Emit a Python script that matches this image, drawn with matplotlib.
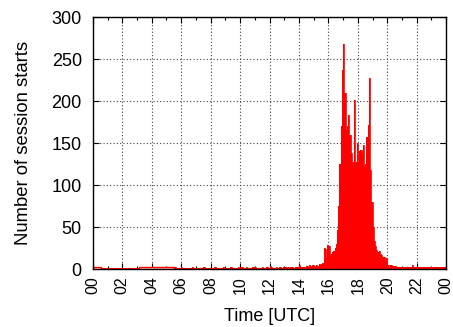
import numpy as np
import matplotlib
matplotlib.use("Agg")
import matplotlib.pyplot as plt
from matplotlib.ticker import MultipleLocator

plt.rcParams['font.family'] = ['Liberation Sans', 'DejaVu Sans']

# session starts per 5-minute bin, one row per hour (00 .. 23 UTC)
h00 = [1, 1, 1, 1, 1, 1, 1, 1, 1, 1, 1, 1]
h01 = [1, 1, 1, 1, 1, 1, 1, 1, 1, 1, 1, 1]
h02 = [1, 1, 1, 1, 1, 1, 1, 1, 1, 1, 1, 1]
h03 = [1, 1, 1, 1, 1, 1, 1, 1, 1, 1, 1, 1]
h04 = [1, 1, 1, 1, 1, 1, 1, 1, 1, 1, 1, 1]
h05 = [1, 1, 1, 1, 1, 1, 1, 2, 1, 1, 1, 1]
h06 = [2, 1, 1, 1, 1, 1, 1, 1, 1, 2, 1, 1]
h07 = [1, 1, 1, 1, 1, 1, 2, 1, 1, 1, 1, 1]
h08 = [1, 1, 1, 2, 1, 1, 1, 1, 1, 1, 2, 1]
h09 = [1, 1, 1, 1, 2, 1, 1, 1, 1, 1, 2, 1]
h10 = [3, 2, 1, 1, 1, 2, 1, 1, 1, 1, 2, 2]
h11 = [2, 1, 1, 1, 1, 1, 2, 1, 1, 2, 3, 1]
h12 = [4, 2, 1, 1, 1, 2, 1, 1, 2, 1, 1, 2]
h13 = [1, 2, 1, 2, 1, 3, 2, 1, 1, 2, 2, 3]
h14 = [5, 2, 3, 2, 3, 2, 4, 3, 5, 4, 3, 5]
h15 = [4, 3, 5, 4, 6, 5, 6, 7, 25, 24, 14, 29]
h16 = [27, 17, 18, 20, 22, 25, 30, 46, 75, 125, 170, 237]
h17 = [268, 210, 165, 170, 183, 160, 138, 128, 126, 201, 128, 150]
h18 = [126, 140, 142, 138, 148, 122, 125, 157, 171, 227, 118, 80]
h19 = [50, 33, 27, 23, 20, 21, 18, 17, 15, 14, 11, 13]
h20 = [5, 3, 5, 5, 4, 4, 4, 3, 3, 3, 3, 2]
h21 = [3, 2, 2, 2, 2, 3, 2, 2, 5, 2, 2, 3]
h22 = [2, 2, 2, 2, 3, 3, 2, 2, 2, 2, 3, 2]
h23 = [2, 2, 2, 2, 2, 2, 2, 2, 2, 2, 2, 2]

counts = np.array(h00 + h01 + h02 + h03 + h04 + h05 + h06 + h07 + h08 + h09 + h10 + h11
                  + h12 + h13 + h14 + h15 + h16 + h17 + h18 + h19 + h20 + h21 + h22 + h23)

# sparse intervals drawn as open boxes (start hour, end hour, count)
sparse_start = [0.0, 3.13]
sparse_end = [0.52, 5.5]
sparse_count = [3, 3]

tick_labels = ["00", "02", "04", "06", "08", "10", "12", "14", "16", "18", "20", "22", "00"]

fig = plt.figure(figsize=(4.53, 3.27), dpi=100)
ax = fig.add_axes([0.205, 0.177, 0.78, 0.771])

bin_w = 24.0 / len(counts)
edges = np.arange(len(counts) + 1) * bin_w
ax.stairs(counts, edges, fill=True, color='#ff0000', linewidth=0, zorder=2)
ax.stairs(counts, edges, fill=False, color='#ff0000', linewidth=0.6, zorder=2)

for s, e, c in zip(sparse_start, sparse_end, sparse_count):
    ax.bar(s, c, width=e - s, align='edge', facecolor='white',
           edgecolor='#ff0000', linewidth=1.0, zorder=3)

ax.set_xlim(0, 24)
ax.set_ylim(0, 300)
ax.xaxis.set_minor_locator(MultipleLocator(1))
ax.yaxis.set_major_locator(MultipleLocator(50))
ax.set_xticks(np.arange(0, 25, 2))
ax.set_xticklabels(tick_labels, rotation=90)

ax.grid(True, which='major', color='#444444', linestyle=(0, (1, 2)), linewidth=0.8, zorder=1)
ax.set_axisbelow(True)

ax.tick_params(axis='both', which='both', direction='in', top=True, right=True, color='black')
ax.tick_params(axis='y', pad=8, labelsize=13)
ax.tick_params(axis='x', pad=5, labelsize=11.5)
ax.tick_params(which='major', length=4, width=0.8)
ax.tick_params(which='minor', length=2, width=0.8)
for sp in ax.spines.values():
    sp.set_linewidth(1.0)
    sp.set_zorder(5)

ax.set_xlabel("Time [UTC]", fontsize=13, labelpad=10)
ax.set_ylabel("Number of session starts", fontsize=13.3, labelpad=14)

fig.savefig("out.png", dpi=100)
